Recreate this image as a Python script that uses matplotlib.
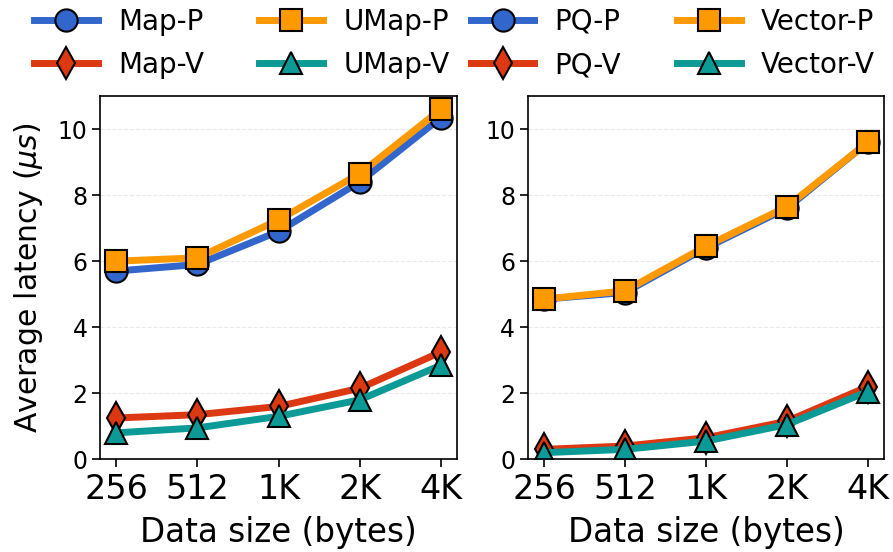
import numpy as np
import matplotlib
matplotlib.use('Agg')
import matplotlib.pyplot as plt

sizes = ['256', '512', '1K', '2K', '4K']

# left panel
map_p = [5.7, 5.9, 6.9, 8.4, 10.35]
map_v = [1.25, 1.35, 1.6, 2.15, 3.25]
umap_p = [6.0, 6.1, 7.25, 8.65, 10.6]
umap_v = [0.8, 0.95, 1.3, 1.8, 2.85]

# right panel
pq_p = [4.85, 5.05, 6.4, 7.6, 9.6]
pq_v = [0.3, 0.4, 0.65, 1.15, 2.2]
vector_p = [4.85, 5.1, 6.45, 7.65, 9.6]
vector_v = [0.2, 0.3, 0.55, 1.05, 2.05]

BLUE = '#3366cc'
RED = '#dc3912'
ORANGE = '#ff9900'
TEAL = '#0b9a96'

line_kw = dict(linewidth = 5, markersize = 16, markeredgecolor = 'black', markeredgewidth = 1.5)

fig = plt.figure(figsize = (8.93, 5.52), dpi = 100)
ax1 = fig.add_axes([0.112, 0.168, 0.400, 0.658])
ax2 = fig.add_axes([0.591, 0.168, 0.399, 0.658])

x = np.arange(len(sizes))

def draw(ax, series):
    handles = []
    for vals, color, marker, label in series:
        h, = ax.plot(x, vals, color = color, marker = marker, markerfacecolor = color, label = label, **line_kw)
        handles.append(h)
    ax.set_xlim(-0.2, 4.2)
    ax.set_ylim(0, 11)
    ax.set_yticks([0, 2, 4, 6, 8, 10])
    ax.set_xticks(x)
    ax.set_xticklabels(sizes, fontsize = 24)
    ax.tick_params(axis = 'y', labelsize = 17, length = 5.5, width = 1.2)
    ax.tick_params(axis = 'x', length = 5.5, width = 1.2, pad = 4.5)
    ax.yaxis.grid(True, linestyle = '--', color = '#dddddd', alpha = 0.6)
    ax.set_axisbelow(True)
    for s in ax.spines.values():
        s.set_linewidth(1.2)
    ax.set_xlabel('Data size (bytes)', fontsize = 23.5, labelpad = 7)
    return handles

h1 = draw(ax1, [(map_p, BLUE, 'o', 'Map-P'),
                (map_v, RED, 'd', 'Map-V'),
                (umap_p, ORANGE, 's', 'UMap-P'),
                (umap_v, TEAL, '^', 'UMap-V')])
h2 = draw(ax2, [(pq_p, BLUE, 'o', 'PQ-P'),
                (pq_v, RED, 'd', 'PQ-V'),
                (vector_p, ORANGE, 's', 'Vector-P'),
                (vector_v, TEAL, '^', 'Vector-V')])

ax1.set_ylabel('Average latency ($\\mu s$)', fontsize = 21.5, labelpad = 9)

leg_kw = dict(ncol = 2, frameon = False, fontsize = 20, loc = 'upper left', borderpad = 0,
              borderaxespad = 0, handlelength = 2.3, labelspacing = 0.55, handletextpad = 0.72,
              columnspacing = 2.0)
fig.legend(handles = h1, bbox_to_anchor = (0.038, 0.986), **leg_kw)
fig.legend(handles = h2, bbox_to_anchor = (0.527, 0.986), **leg_kw)

fig.savefig('out.png', dpi = 100)
